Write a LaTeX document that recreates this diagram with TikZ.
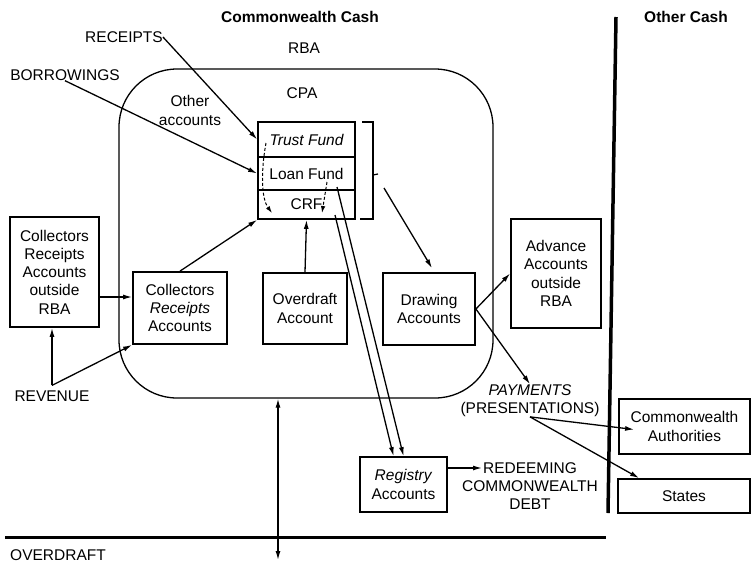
\documentclass[tikz,border=0pt]{standalone}
\usepackage{fontspec}
\setmainfont{Liberation Sans}
\usetikzlibrary{arrows.meta}
\begin{document}
\begin{tikzpicture}[x=1pt,y=-1pt,
  font=\fontsize{15.5}{18.3}\selectfont,
  lbl/.style={align=center, inner sep=0pt},
  box/.style={draw, line width=1.8pt, align=center, inner sep=0pt},
  fundrow/.style={draw, line width=1.7pt, inner sep=0pt, minimum width=97pt},
  conn/.style={line width=1.3pt, -{Latex[length=9pt,width=5pt]}},
  dsh/.style={line width=1pt, dash pattern=on 3pt off 2pt, -{Latex[length=7pt,width=4.5pt]}},
  heading/.style={inner sep=0pt, font=\fontsize{15.5}{18.3}\selectfont\bfseries}]
\useasboundingbox (0,0) rectangle (752,563);

% headings
\node[heading] (cwcash) at (300,17) {Commonwealth Cash};
\node[heading] (othercash) at (686,17) {Other Cash};
\node[lbl] (rba) at (304,48) {RBA};

% CPA rounded region
\node[draw, line width=1.3pt, rounded corners=58pt, minimum width=374pt, minimum height=329pt, inner sep=0pt] (cpabox) at (306,233.5) {};
\node[lbl] (cpa) at (302,93) {CPA};
\node[lbl] (other) at (190,110.5) {Other\\accounts};

\node[lbl] (receipts) at (124,37) {RECEIPTS};
\node[lbl] (borrow) at (65,75) {BORROWINGS};

% fund box
\node[fundrow, minimum height=35pt] (trust) at (306.5,139.5) {\itshape Trust Fund};
\node[fundrow, minimum height=33pt] (loan) at (306.5,173.5) {Loan Fund};
\node[fundrow, minimum height=29pt] (crf) at (306.5,204.5) {CRF};

% bracket
\draw[line width=1.5pt] (362,122) -- (373,122) -- (373,219) -- (360,219);
\draw[line width=1.2pt] (373,175) -- (378,174);

% dashed transfers
\coordinate (t1) at (266,143);
\coordinate (t2) at (272,213);
\draw[dsh] (t1) .. controls (261,170) and (261,198) .. (t2);
\coordinate (l1) at (327,182);
\coordinate (l2) at (322,213);
\draw[dsh] (l1) -- (l2);

% boxes
\node[box, minimum width=89pt, minimum height=110pt] (collout) at (54.5,272) {Collectors\\Receipts\\Accounts\\outside\\RBA};
\node[box, minimum width=94pt, minimum height=72pt] (coll) at (180,308) {Collectors\\\textit{Receipts}\\Accounts};
\node[box, minimum width=84pt, minimum height=71pt] (over) at (305,308.5) {Overdraft\\Account};
\node[box, minimum width=92pt, minimum height=72pt] (drawacc) at (429,309) {Drawing\\Accounts};
\node[box, minimum width=90pt, minimum height=109pt] (adv) at (556,273.5) {Advance\\Accounts\\outside\\RBA};
\node[lbl] (pay) at (530,400.5) {\textit{PAYMENTS}\\(PRESENTATIONS)};
\node[box, minimum width=87pt, minimum height=55pt] (reg) at (403.5,484.5) {\textit{Registry}\\Accounts};
\node[lbl] (redeem) at (530,486) {REDEEMING\\COMMONWEALTH\\DEBT};
\node[box, minimum width=131pt, minimum height=55pt] (ca) at (684.5,426.5) {Commonwealth\\Authorities};
\node[box, minimum width=132pt, minimum height=34pt] (states) at (684,496) {States};
\node[lbl] (rev) at (52,396) {REVENUE};
\node[lbl] (od) at (58,555) {OVERDRAFT};

% connectors
\draw[conn] (receipts.east) -- (trust.west);
\draw[conn] (borrow.south) -- (loan.west);
\draw[conn] (coll.north) -- (crf.south west);
\coordinate (rv) at ([yshift=5pt]rev.north);
\draw[conn] (rv) -- (rv |- collout.south);
\draw[conn] (rv) -- (coll.south west);
\draw[conn] ([yshift=-25pt]collout.east) -- ([yshift=-25pt]collout.east -| coll.west);
\draw[conn] (over.north) -- (crf.south);
\coordinate (br) at (384,188);
\draw[conn] (br) -- ([xshift=3pt,yshift=4pt]drawacc.north);
\draw[conn] (drawacc.east) -- (adv.west);
\draw[conn] (drawacc.east) -- (pay.north);
\draw[conn] (pay.south) -- ([xshift=16pt,yshift=-3pt]ca.west);
\draw[conn] (pay.south) -- ([xshift=22pt]states.north west);
\coordinate (d1) at (335,215);
\coordinate (d2) at (337,187);
\draw[conn] (d1) -- ([xshift=-10pt]reg.north);
\draw[conn] (d2) -- (reg.north);
\coordinate (rdtip) at (482,468);
\draw[conn] ([yshift=16.5pt]reg.east) -- (rdtip);
\coordinate (odb) at (278,560);
\draw[line width=1.3pt, {Latex[length=9pt,width=5pt]}-{Latex[length=9pt,width=5pt]}] (odb |- cpabox.south) -- (odb);

% thick dividing lines
\draw[line width=3pt] (5,537) -- (606,537);
\draw[line width=3.5pt] (616,17) -- (608,513);
\end{tikzpicture}
\end{document}
